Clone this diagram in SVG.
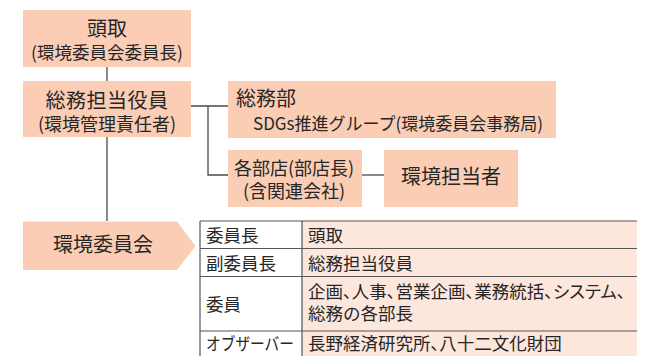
<svg xmlns="http://www.w3.org/2000/svg" width="648" height="356" viewBox="0 0 648 356">
<style>
.box{fill:#fbcdb5}
.t{font-family:"Noto Sans CJK JP","Noto Sans",sans-serif;fill:#262626}
.c{text-anchor:middle}
.p{font-feature-settings:"palt" 1}
.con{stroke:#4a4a4a;stroke-width:1.3;fill:none}
.tl{stroke:#555;stroke-width:1.2;fill:none}
</style>
<rect width="648" height="356" fill="#fff"/>
<g id="connectors">
<line class="con" x1="107" y1="67" x2="107" y2="81"/>
<line class="con" x1="107" y1="137" x2="107" y2="221"/>
<polyline class="con" points="191,106 228,106"/>
<polyline class="con" points="208,106 208,175 228,175"/>
<line class="con" x1="362" y1="175" x2="384" y2="175"/>
</g>
<g id="node-head">
<rect class="box" x="23" y="10" width="168" height="57"/>
<text class="t c" x="107" y="36" font-size="20">頭取</text>
<text class="t c" x="107" y="59" font-size="17.5">(環境委員会委員長)</text>
</g>
<g id="node-officer">
<rect class="box" x="23" y="81" width="168" height="56"/>
<text class="t c" x="107" y="108" font-size="20" letter-spacing="0.5">総務担当役員</text>
<text class="t c" x="107" y="131" font-size="18">(環境管理責任者)</text>
</g>
<g id="node-general">
<rect class="box" x="228" y="81" width="328" height="57"/>
<text class="t" x="236" y="106" font-size="20">総務部</text>
<text class="t" x="253" y="130" font-size="17.5" textLength="290" lengthAdjust="spacingAndGlyphs">SDGs推進グループ(環境委員会事務局)</text>
</g>
<g id="node-branches">
<rect class="box" x="228" y="150" width="134" height="57"/>
<text class="t c" x="294" y="175" font-size="18">各部店(部店長)</text>
<text class="t c" x="294" y="198" font-size="18">(含関連会社)</text>
</g>
<g id="node-staff">
<rect class="box" x="384" y="150" width="134" height="57"/>
<text class="t c" x="451" y="184" font-size="20">環境担当者</text>
</g>
<g id="node-committee">
<polygon class="box" points="23,221.5 177,221.5 195.5,246 177,270 23,270"/>
<text class="t c" x="103" y="252" font-size="20">環境委員会</text>
</g>
<g id="table">
<rect x="302" y="221" width="335" height="140" fill="#fde7dd"/>
<line class="tl" x1="200" y1="221" x2="637" y2="221" stroke="#777"/>
<line class="tl" x1="200" y1="248.5" x2="637" y2="248.5"/>
<line class="tl" x1="200" y1="276.5" x2="637" y2="276.5" stroke="#333"/>
<line class="tl" x1="200" y1="331" x2="637" y2="331" stroke="#333"/>
<line class="tl" x1="200" y1="221" x2="200" y2="356" stroke="#777"/>
<line class="tl" x1="302" y1="221" x2="302" y2="356" stroke="#666" stroke-width="1.6"/>
<text class="t" x="206" y="242" font-size="17.5">委員長</text>
<text class="t" x="308" y="242" font-size="17.5">頭取</text>
<text class="t" x="206" y="270" font-size="17.5">副委員長</text>
<text class="t" x="308" y="270" font-size="17.5">総務担当役員</text>
<text class="t" x="206" y="311" font-size="17.5">委員</text>
<text class="t p" x="308" y="298" font-size="17.5">企画、人事、営業企画、業務統括、システム、</text>
<text class="t" x="308" y="320" font-size="17.5">総務の各部長</text>
<text class="t" x="206" y="350" font-size="17.5" textLength="88" lengthAdjust="spacingAndGlyphs">オブザーバー</text>
<text class="t p" x="308" y="350" font-size="17.5">長野経済研究所、八十二文化財団</text>
</g>
</svg>
